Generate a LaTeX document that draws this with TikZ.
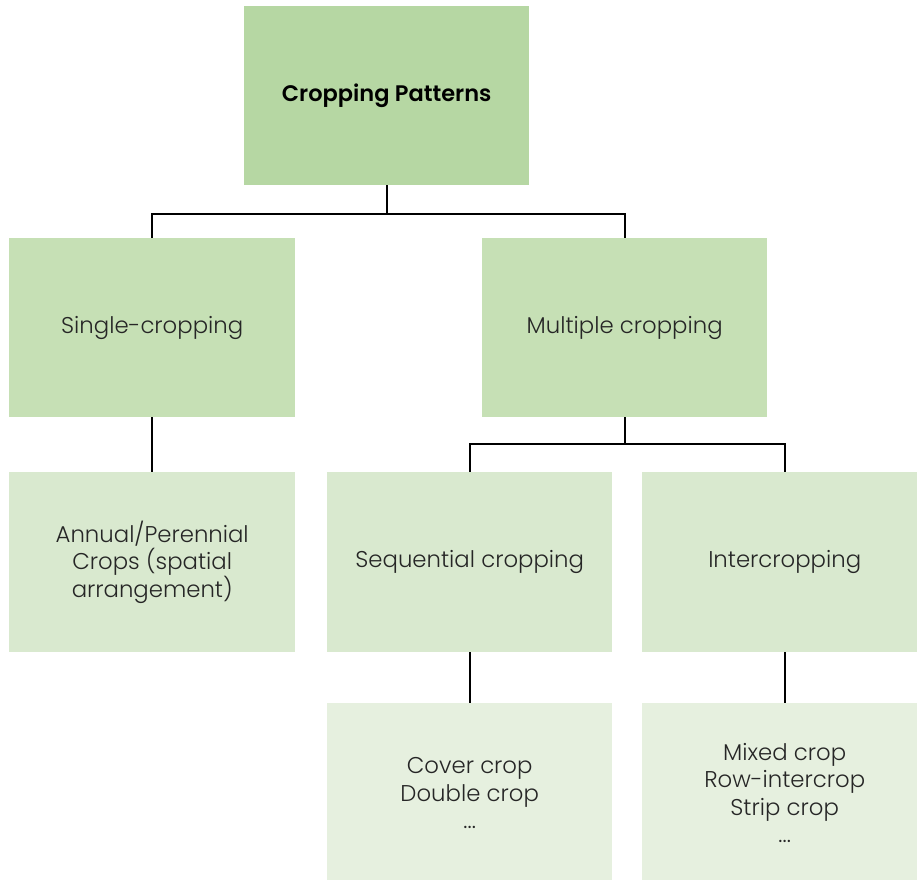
\documentclass[tikz,border=0pt]{standalone}
\usepackage{fontspec}
\setmainfont{Poppins}[UprightFont=* Light, BoldFont=* SemiBold]
\definecolor{cA}{HTML}{B6D7A3}
\definecolor{cB}{HTML}{C6E0B5}
\definecolor{cC}{HTML}{D9E9CF}
\definecolor{cD}{HTML}{E6F0DF}
\begin{document}
\begin{tikzpicture}[x=1pt,y=-1pt,
  box/.style={inner sep=0pt, anchor=north west, align=center, font=\fontsize{22.8}{27.5}\selectfont, text=black!85},
  conn/.style={line width=2pt, black}]
\useasboundingbox (0,0) rectangle (917,879);
\fill[cA] (244,6) rectangle (529,185);
\node[box, font=\bfseries\fontsize{22.5}{27.5}\selectfont, text=black] (top) at (244,6) [minimum width=285pt, minimum height=179pt] {Cropping Patterns};
\node[box, fill=cB, minimum width=286pt, minimum height=179pt] (single) at (9,238) {Single-cropping};
\node[box, fill=cB, minimum width=285pt, minimum height=179pt] (multi) at (482,238) {Multiple cropping};
\node[box, fill=cC, minimum width=286pt, minimum height=180pt] (annual) at (9,472) {Annual/Perennial\\Crops (spatial\\arrangement)};
\node[box, fill=cC, minimum width=285pt, minimum height=180pt] (seq) at (327,472) {Sequential cropping};
\node[box, fill=cC, minimum width=285pt, minimum height=180pt] (inter) at (642,472) {Intercropping};
\node[box, fill=cD, minimum width=285pt, minimum height=180pt] (cover) at (327,703) {Cover crop\\Double crop\\...};
\node[box, fill=cD, minimum width=285pt, minimum height=180pt] (mixed) at (642,703) {Mixed crop\\Row-intercrop\\Strip crop\\...};
\draw[conn] (top.south) -- ++(0,29) -| (single.north);
\draw[conn] (top.south) ++(0,29) -| (multi.north);
\draw[conn] (single.south) -- (annual.north);
\draw[conn] (multi.south) -- ++(0,27) -| (seq.north);
\draw[conn] (multi.south) ++(0,27) -| (inter.north);
\draw[conn] (seq.south) -- (cover.north);
\draw[conn] (inter.south) -- (mixed.north);
\end{tikzpicture}
\end{document}
